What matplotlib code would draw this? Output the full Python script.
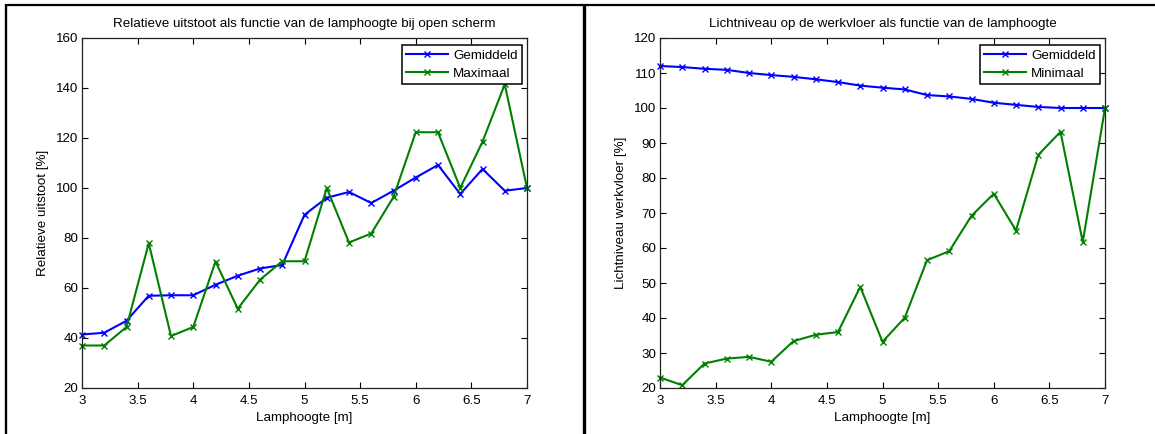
import matplotlib
matplotlib.use("Agg")
import matplotlib.pyplot as plt
from matplotlib.lines import Line2D

plt.rcParams['font.family'] = ['Liberation Sans', 'DejaVu Sans']

hoogte = [3.0, 3.2, 3.4, 3.6, 3.8, 4.0, 4.2, 4.4, 4.6, 4.8, 5.0,
          5.2, 5.4, 5.6, 5.8, 6.0, 6.2, 6.4, 6.6, 6.8, 7.0]

uitstoot_gem = [41.4, 42.1, 46.9, 56.9, 57.1, 57.1, 61.3, 64.9, 67.8, 69.2, 89.3,
                96.1, 98.4, 94.0, 98.9, 104.2, 109.2, 97.6, 107.6, 98.9, 100.0]
uitstoot_max = [37.0, 37.0, 44.4, 77.9, 40.8, 44.4, 70.6, 51.7, 63.3, 70.7, 70.7,
                100.0, 78.2, 81.8, 96.4, 122.3, 122.3, 100.0, 118.5, 141.5, 100.0]

licht_gem = [112.0, 111.7, 111.2, 110.9, 110.0, 109.4, 108.9, 108.2, 107.4, 106.4, 105.8,
             105.3, 103.7, 103.3, 102.6, 101.5, 100.9, 100.3, 100.0, 100.0, 100.0]
licht_min = [23.0, 20.8, 27.0, 28.4, 28.9, 27.5, 33.4, 35.2, 36.0, 48.9, 33.2,
             40.1, 56.5, 59.1, 69.2, 75.5, 65.0, 86.6, 93.2, 61.7, 100.0]

xticks = [3, 3.5, 4, 4.5, 5, 5.5, 6, 6.5, 7]
xticklabels = ['3', '3.5', '4', '4.5', '5', '5.5', '6', '6.5', '7']

FS = 9.6
W, H = 1155, 434
fig = plt.figure(figsize=(W / 100, H / 100), dpi=100)
fig.patch.set_facecolor('white')

def style_axes(ax):
    ax.tick_params(direction='in', top=True, right=True, length=4, width=0.8,
                   labelsize=FS, colors='black')
    ax.tick_params(axis='x', pad=5)
    ax.tick_params(axis='y', pad=2.5)
    for s in ax.spines.values():
        s.set_linewidth(0.9)
        s.set_color('#222222')
    ax.set_xlim(3, 7)
    ax.set_xticks(xticks)
    ax.set_xticklabels(xticklabels)

ax1 = fig.add_axes([82 / W, 1 - 388 / H, 445 / W, 350 / H])
ax1.plot(hoogte, uitstoot_gem, color='#0000ff', lw=1.5, marker='x', ms=4, mew=1.0, label='Gemiddeld')
ax1.plot(hoogte, uitstoot_max, color='#008000', lw=1.5, marker='x', ms=4, mew=1.0, label='Maximaal')
style_axes(ax1)
ax1.set_ylim(20, 160)
ax1.set_yticks(range(20, 161, 20))
ax1.set_title('Relatieve uitstoot als functie van de lamphoogte bij open scherm', fontsize=FS, pad=8)
ax1.set_xlabel('Lamphoogte [m]', fontsize=FS, labelpad=4)
ax1.set_ylabel('Relatieve uitstoot [%]', fontsize=FS, labelpad=5)

ax2 = fig.add_axes([660 / W, 1 - 388 / H, 445 / W, 350 / H])
ax2.plot(hoogte, licht_gem, color='#0000ff', lw=1.5, marker='x', ms=4, mew=1.0, label='Gemiddeld')
ax2.plot(hoogte, licht_min, color='#008000', lw=1.5, marker='x', ms=4, mew=1.0, label='Minimaal')
style_axes(ax2)
ax2.set_ylim(20, 120)
ax2.set_yticks(range(20, 121, 10))
ax2.set_title('Lichtniveau op de werkvloer als functie van de lamphoogte', fontsize=FS, pad=8)
ax2.set_xlabel('Lamphoogte [m]', fontsize=FS, labelpad=4)
ax2.set_ylabel('Lichtniveau werkvloer [%]', fontsize=FS, labelpad=5)

for ax in (ax1, ax2):
    for ln in ax.lines:
        ln.set_clip_on(False)
    leg = ax.legend(loc='upper right', bbox_to_anchor=(0.989, 0.98), borderaxespad=0,
                    fontsize=FS, fancybox=False, framealpha=1, edgecolor='black',
                    handlelength=3.1, handletextpad=0.4, borderpad=0.35, labelspacing=0.4)
    leg.get_frame().set_linewidth(1.1)
    leg.set_zorder(5)

# outer frame lines
fig.add_artist(Line2D([6 / W, 1.0], [1 - 5 / H, 1 - 5 / H], color='black', lw=1.6,
                      transform=fig.transFigure, solid_capstyle='butt'))
fig.add_artist(Line2D([6 / W, 6 / W], [0, 1 - 4 / H], color='black', lw=1.7,
                      transform=fig.transFigure, solid_capstyle='butt'))
fig.add_artist(Line2D([584 / W, 584 / W], [0, 1 - 4 / H], color='black', lw=2.4,
                      transform=fig.transFigure, solid_capstyle='butt'))

fig.savefig('out.png', dpi=100, facecolor='white')
